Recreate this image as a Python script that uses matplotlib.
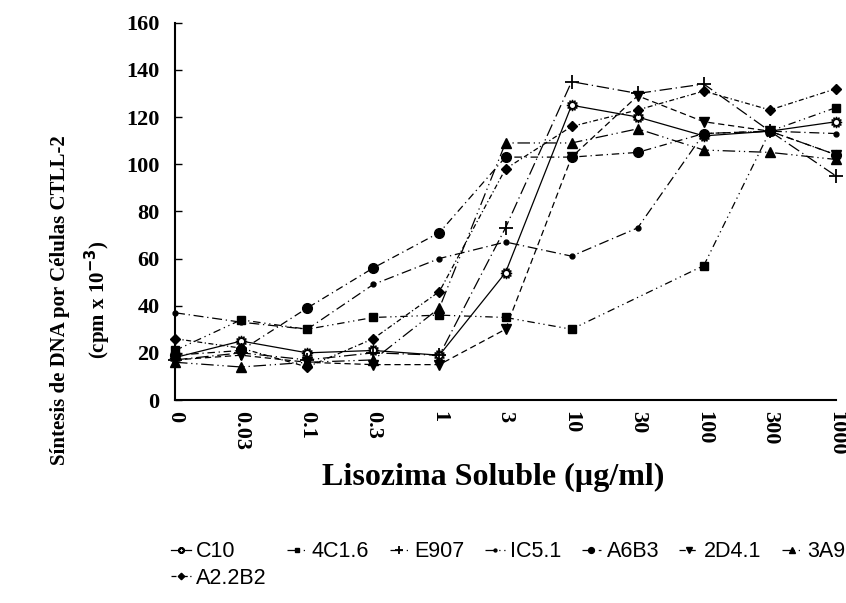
import matplotlib
matplotlib.use("Agg")
import matplotlib.pyplot as plt
import numpy as np

# dose categories (µg/ml)
doses = ["0", "0.03", "0.1", "0.3", "1", "3", "10", "30", "100", "300", "1000"]

# cpm x 10^-3 (None = no point drawn)
c10 = [18, 25, 20, 21, 19, 54, 125, 120, 112, 114, 118]
c4c16 = [21, 34, 30, 35, 36, 35, 30, None, 57, 114, 124]
e907 = [17, 20, 17, 20, 19, 73, 135, 130, 134, 114, 95]
ic51 = [37, 33, 30, 49, 60, 67, 61, 73, 113, 114, 113]
a6b3 = [19, 21, 39, 56, 71, 103, 103, 105, 113, 114, 104]
d241 = [17, 19, 16, 15, 15, 30, 103, 129, 118, 114, 104]
a3a9 = [16, 14, 16, 17, 39, 109, 109, 115, 106, 105, 102]
a22b2 = [26, 22, 14, 26, 46, 98, 116, 123, 131, 123, 132]

# order puts C10 and A2.2B2 in the first legend column
series = [
    ("C10", c10, dict(marker=(12, 1, 0), ms=8, mfc="white", ls="-")),
    ("A2.2B2", a22b2, dict(marker="D", ms=5.5, ls=(0, (4, 2, 1, 2)))),
    ("4C1.6", c4c16, dict(marker="s", ms=5.5, ls=(0, (6, 3, 1, 3, 1, 3)))),
    ("E907", e907, dict(marker="+", ms=10, mew=1.3, ls=(0, (10, 3, 1, 3)))),
    ("IC5.1", ic51, dict(marker="o", ms=3.5, ls=(0, (8, 3, 1, 3)))),
    ("A6B3", a6b3, dict(marker="o", ms=7, ls=(0, (6, 3, 1, 3)))),
    ("2D4.1", d241, dict(marker="v", ms=6.5, ls=(0, (5, 3)))),
    ("3A9", a3a9, dict(marker="^", ms=6.5, ls=(0, (10, 3, 1, 3, 1, 3)))),
]

fig = plt.figure(figsize=(8.46, 6.03), dpi=100)
ax = fig.add_axes([175 / 846, 1 - 400 / 603, (836 - 175) / 846, (400 - 22.7) / 603])

for name, vals, st in series:
    xs = [i for i, v in enumerate(vals) if v is not None]
    ys = [v for v in vals if v is not None]
    ax.plot(xs, ys, color="black", lw=0.9, mec="black",
            mfc=st.pop("mfc", "black"), label=name, clip_on=False, **st)

ax.set_xlim(0, 10)
ax.set_ylim(0, 160)
ax.set_yticks(range(0, 161, 20))
ax.set_xticks(range(len(doses)))
ax.set_xticklabels(doses, rotation=-90, va="top", ha="center")

serif = "Liberation Serif"
for lab in ax.get_xticklabels() + ax.get_yticklabels():
    lab.set_fontfamily(serif)
    lab.set_fontweight("bold")
    lab.set_fontsize(16)

ax.tick_params(axis="x", length=0, pad=8)
ax.tick_params(axis="y", direction="in", length=5, width=1, pad=11)
ax.spines["top"].set_visible(False)
ax.spines["right"].set_visible(False)
ax.spines["left"].set_linewidth(1.5)
ax.spines["bottom"].set_linewidth(1.5)

fig.text(493 / 846, 1 - 477 / 603, "Lisozima Soluble (µg/ml)", fontfamily=serif,
         fontweight="bold", fontsize=23, ha="center", va="center")
fig.text(60 / 846, 1 - 300 / 603, "Síntesis de DNA por Células CTLL-2", fontfamily=serif,
         fontweight="bold", fontsize=15, rotation=90, ha="center", va="center")
fig.text(98 / 846, 1 - 300 / 603, "(cpm x 10$^{\\mathbf{-3}}$)", fontfamily=serif,
         fontweight="bold", fontsize=15, rotation=90, ha="center", va="center")

handles, labels = ax.get_legend_handles_labels()
leg = fig.legend(handles, labels, ncol=7, loc="upper left",
                 bbox_to_anchor=(152 / 846, 1 - 522 / 603), frameon=False,
                 handlelength=0.9, handletextpad=0.25, columnspacing=0.95,
                 labelspacing=0.25, markerscale=0.6,
                 prop={"family": "Liberation Sans", "size": 15.5})

fig.savefig("out.png", dpi=100)
